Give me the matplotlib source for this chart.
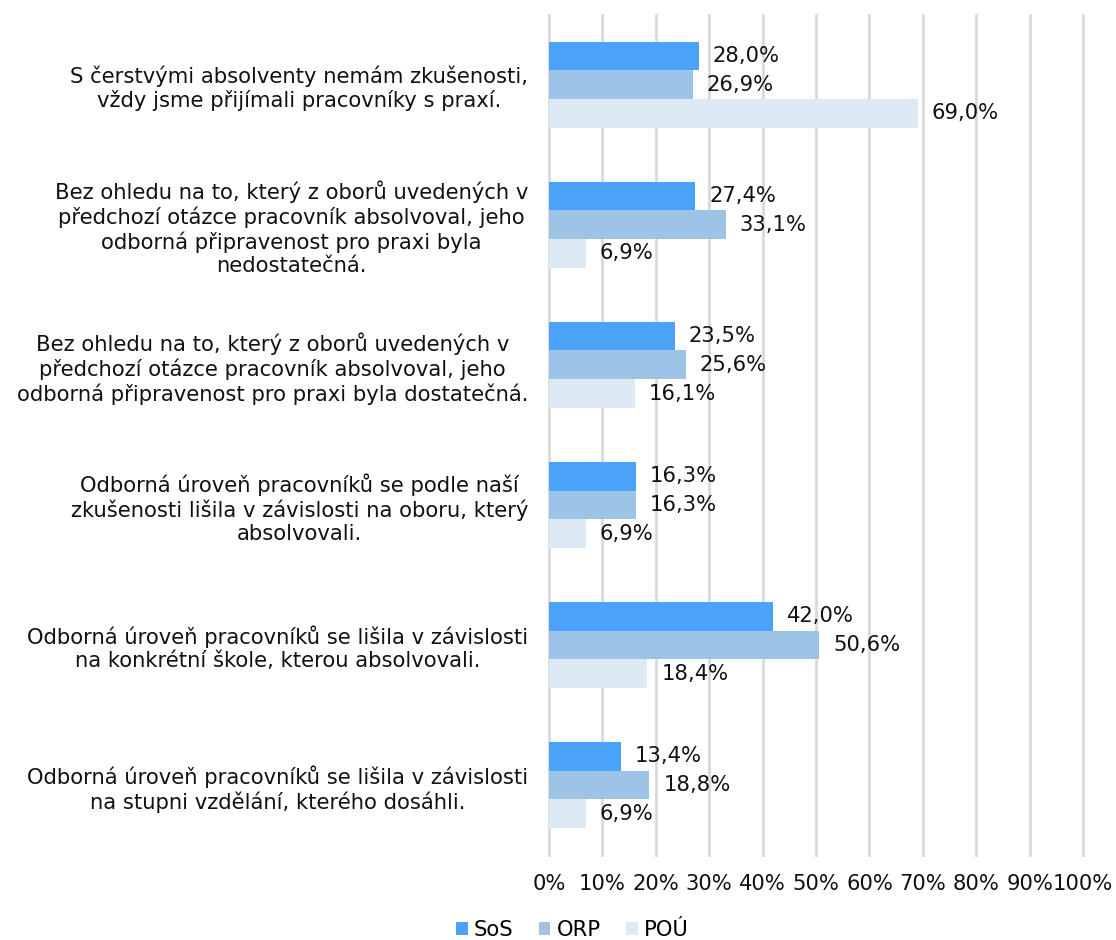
import matplotlib.pyplot as plt
from matplotlib.patches import Patch
import numpy as np

plt.rcParams['font.family'] = ['DejaVu Sans']

categories = [
    'S čerstvými absolventy nemám zkušenosti,\nvždy jsme přijímali pracovníky s praxí.',
    'Bez ohledu na to, který z oborů uvedených v\npředchozí otázce pracovník absolvoval, jeho\nodborná připravenost pro praxi byla\nnedostatečná.',
    'Bez ohledu na to, který z oborů uvedených v\npředchozí otázce pracovník absolvoval, jeho\nodborná připravenost pro praxi byla dostatečná.',
    'Odborná úroveň pracovníků se podle naší\nzkušenosti lišila v závislosti na oboru, který\nabsolvovali.',
    'Odborná úroveň pracovníků se lišila v závislosti\nna konkrétní škole, kterou absolvovali.',
    'Odborná úroveň pracovníků se lišila v závislosti\nna stupni vzdělání, kterého dosáhli.',
]
series_names = ['SoS', 'ORP', 'POÚ']
sos = [28.0, 27.4, 23.5, 16.3, 42.0, 13.4]
orp = [26.9, 33.1, 25.6, 16.3, 50.6, 18.8]
pou = [69.0, 6.9, 16.1, 6.9, 18.4, 6.9]
colors = ['#4aa3f8', '#9dc3e6', '#ddeaf6']
xticks = [0, 10, 20, 30, 40, 50, 60, 70, 80, 90, 100]

fs = 15.2
fig = plt.figure(figsize=(11.16, 9.4), dpi=100)
ax = fig.add_axes([0.492, 0.0904, 0.4785, 0.894])

y = np.arange(len(categories))
h = 0.205
for k, (vals, col) in enumerate(zip([sos, orp, pou], colors)):
    pos = y + (k - 1) * h
    ax.barh(pos, vals, height=h, color=col, zorder=3)
    for p, v in zip(pos, vals):
        ax.annotate(f'{v:.1f}%'.replace('.', ','), (v, p), xytext=(10, 0),
                    textcoords='offset points', va='center', ha='left',
                    fontsize=fs, color='#111111')

ax.set_xlim(0, 100)
ax.set_ylim(len(categories) - 0.5, -0.5)
ax.set_xticks(xticks)
ax.set_xticklabels([f'{t}%' for t in xticks], fontsize=fs, color='#111111')
ax.set_yticks(y)
ax.set_yticklabels(categories, fontsize=fs, color='#111111', multialignment='center')
ax.tick_params(axis='both', length=0)
ax.tick_params(axis='x', pad=14)
ax.tick_params(axis='y', pad=15)
ax.grid(axis='x', color='#d9d9d9', linewidth=2, zorder=0)
for line in ax.get_xgridlines():
    line.set_clip_on(False)
for s in ax.spines.values():
    s.set_visible(False)

handles = [Patch(facecolor=c, label=n) for c, n in zip(colors, series_names)]
fig.legend(handles=handles, loc='center', bbox_to_anchor=(0.513, 0.011), ncol=3,
           frameon=False, fontsize=fs, handlelength=0.55, handleheight=0.55,
           handletextpad=0.3, columnspacing=1.2)

fig.savefig('out.png', dpi=100)
